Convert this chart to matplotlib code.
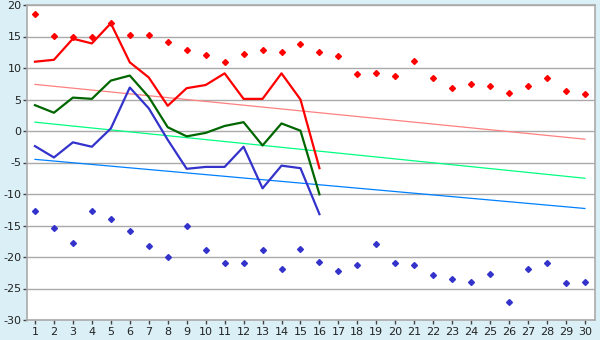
import matplotlib
matplotlib.use("Agg")
import matplotlib.pyplot as plt
import numpy as np

plt.rcParams['axes.unicode_minus'] = False

days = list(range(1, 31))
max_points = [18.5, 15.1, 15.0, 14.9, 17.2, 15.2, 15.2, 14.1, 12.8, 12.0,
              10.9, 12.2, 12.8, 12.5, 13.8, 12.5, 11.9, 9.0, 9.2, 8.7,
              11.1, 8.4, 6.8, 7.4, 7.1, 6.1, 7.1, 8.4, 6.3, 5.8]
min_points = [-12.75, -15.4, -17.8, -12.75, -14.0, -15.9, -18.3, -20.05, -15.0, -18.9,
              -21.0, -21.0, -18.9, -21.95, -18.8, -20.8, -22.3, -21.3, -18.0, -21.0,
              -21.2, -22.9, -23.5, -23.9, -22.75, -27.2, -21.95, -21.0, -24.2, -24.0]

line_days = list(range(1, 17))
max_line = [11.0, 11.3, 14.65, 13.9, 17.1, 10.9, 8.5, 4.0, 6.8, 7.3,
            9.15, 5.1, 5.1, 9.15, 5.0, -5.9]
mean_line = [4.1, 2.9, 5.3, 5.1, 8.0, 8.8, 5.4, 0.6, -0.85, -0.3,
             0.8, 1.4, -2.3, 1.2, 0.05, -10.05]
min_line = [-2.4, -4.2, -1.8, -2.5, 0.4, 6.9, 3.6, -1.4, -6.0, -5.7,
            -5.7, -2.5, -9.1, -5.5, -5.9, -13.2]

trend_days = [1, 30]
max_trend = [7.4, -1.3]
mean_trend = [1.4, -7.5]
min_trend = [-4.5, -12.3]

bg = '#daeff6'
fig = plt.figure(figsize=(6, 3.4), dpi=100, facecolor=bg)
ax = fig.add_axes([27/600, 1 - 320/340, 568/600, 315/340])
ax.set_facecolor('white')

ax.set_xlim(0.58, 30.53)
ax.set_ylim(-30, 20)
ax.set_yticks(np.arange(-30, 21, 5))
ax.set_xticks(days)
ax.grid(axis='y', color='#aaaaaa', linewidth=1.0)
ax.set_axisbelow(True)
for s in ax.spines.values():
    s.set_color('#aaaaaa')
    s.set_linewidth(1.2)

ax.tick_params(axis='both', labelsize=8, colors='#222222', length=3, width=1)
ax.tick_params(axis='x', pad=2)
ax.tick_params(axis='y', pad=1, color='#444444')
ax.tick_params(axis='x', color='#444444')

ax.plot(trend_days, max_trend, color='#ff8080', linewidth=0.9)
ax.plot(trend_days, mean_trend, color='#00ff80', linewidth=0.9)
ax.plot(trend_days, min_trend, color='#0080ff', linewidth=0.9)

ax.plot(line_days, max_line, color='#ff0000', linewidth=1.6)
ax.plot(line_days, mean_line, color='#006600', linewidth=1.6)
ax.plot(line_days, min_line, color='#3333cc', linewidth=1.6)

ax.plot(days, max_points, linestyle='none', marker='D', markersize=3,
        color='#ff0000')
ax.plot(days, min_points, linestyle='none', marker='D', markersize=3,
        color='#3333cc')

fig.savefig('out.png', dpi=100, facecolor=bg)
